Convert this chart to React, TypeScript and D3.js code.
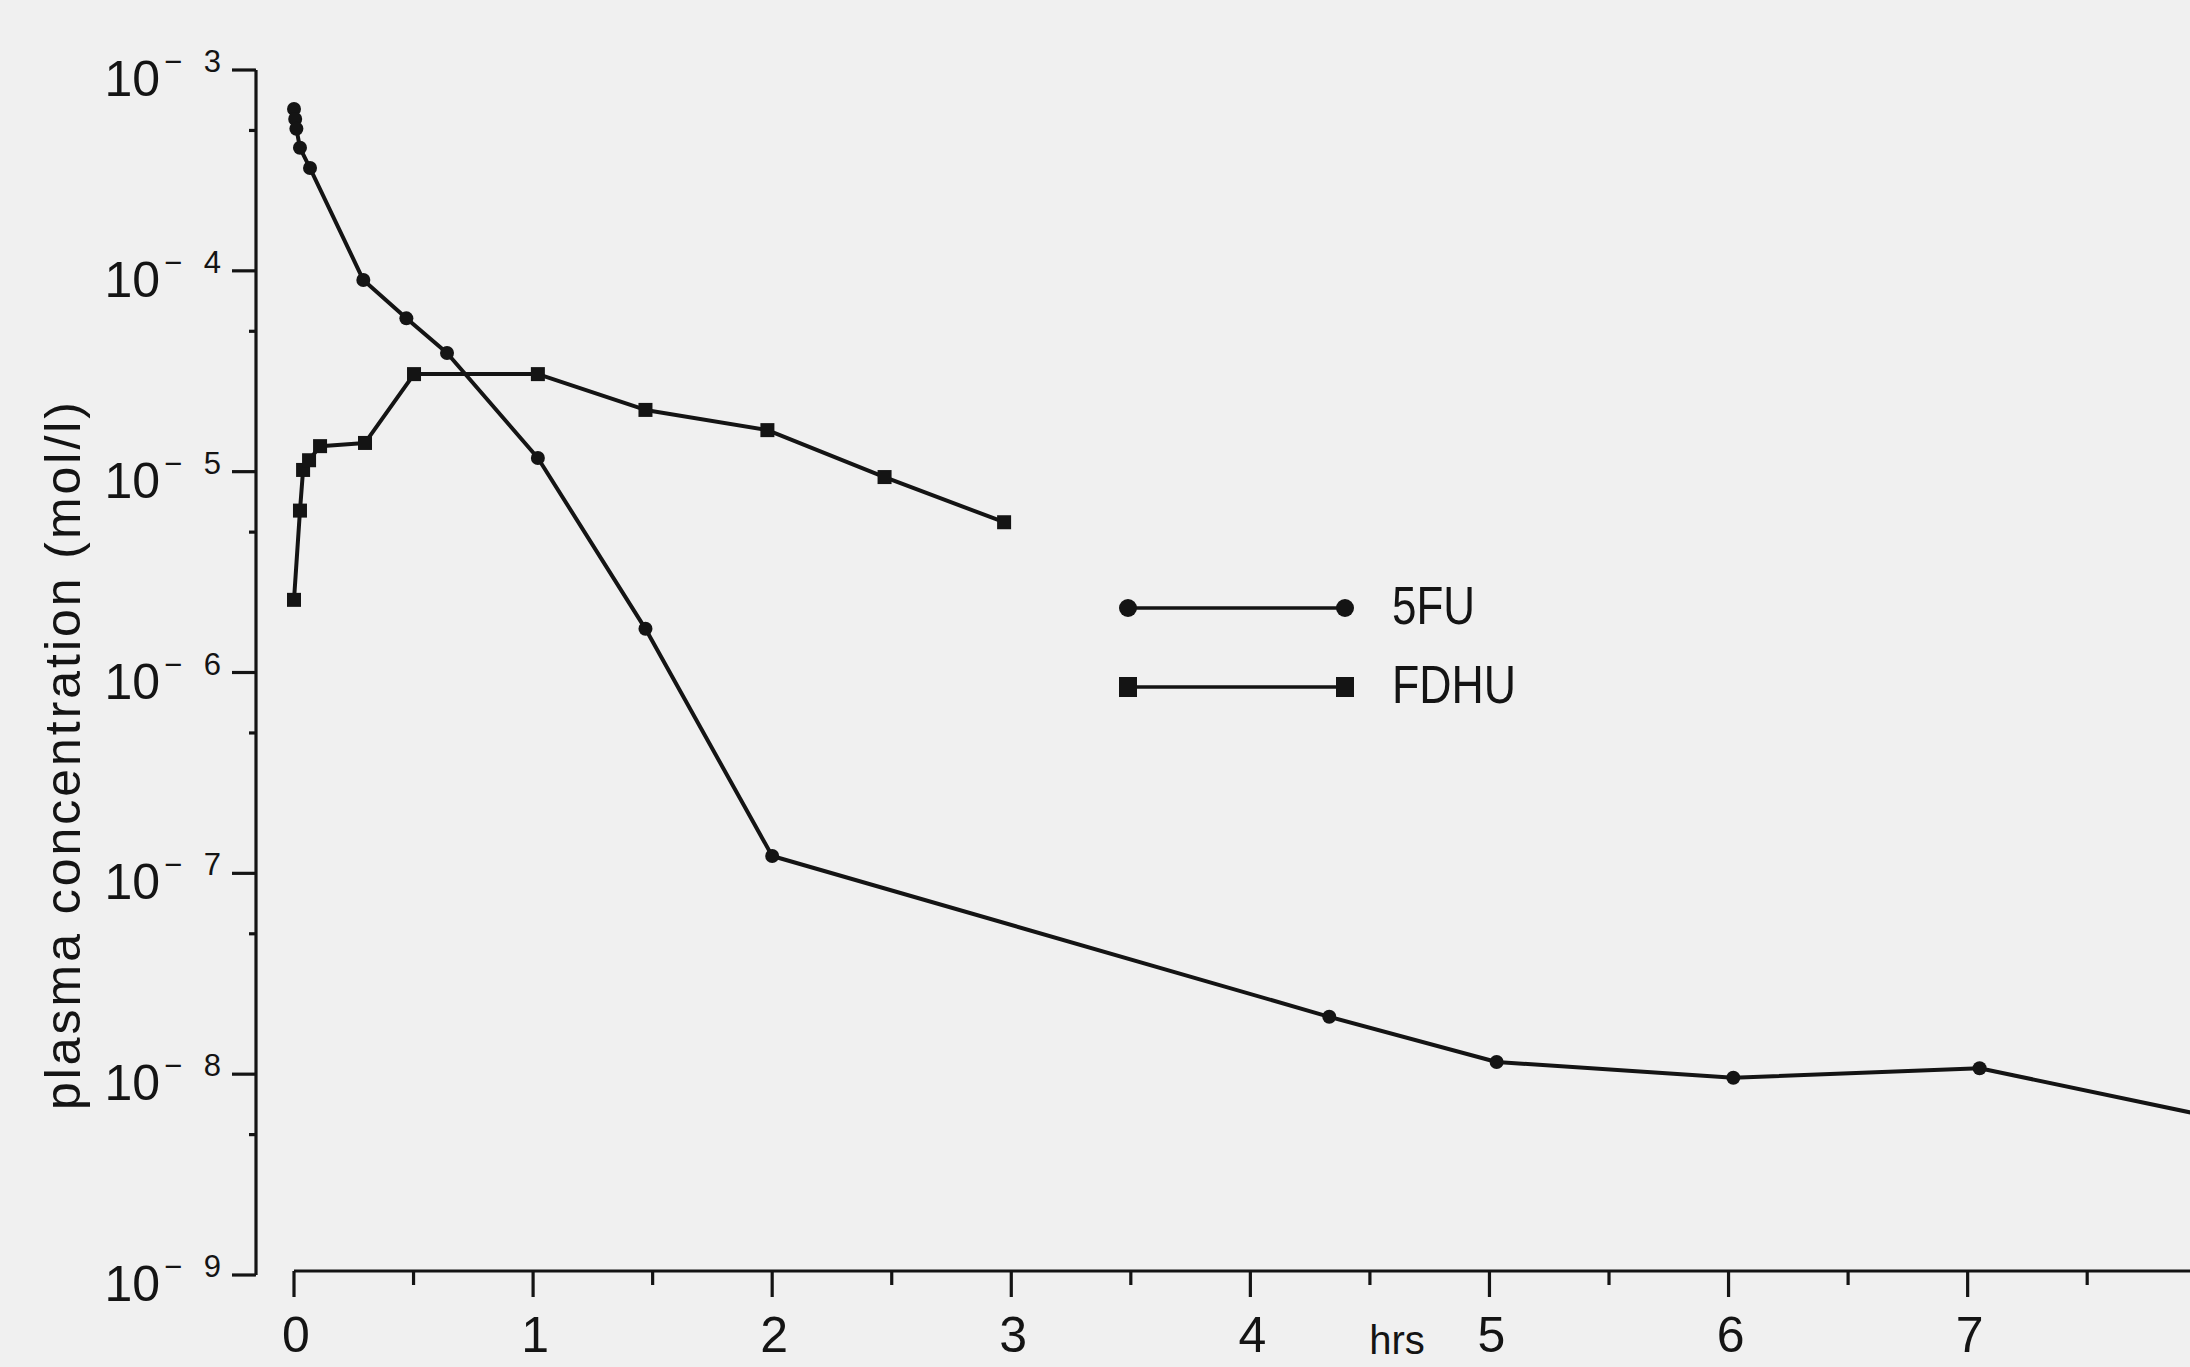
import React from 'react';
import * as d3 from 'd3';

// ---- data ----
const sfuTime = [0, 0.005, 0.01, 0.025, 0.067, 0.29, 0.47, 0.64, 1.02, 1.47, 2.0, 4.33, 5.03, 6.02, 7.05, 8.0];
const sfuConc = [6.4e-4, 5.7e-4, 5.1e-4, 4.1e-4, 3.25e-4, 9.0e-5, 5.8e-5, 3.9e-5, 1.17e-5, 1.65e-6, 1.22e-7, 1.93e-8, 1.15e-8, 9.6e-9, 1.07e-8, 6.2e-9];

const fdhuTime = [0, 0.025, 0.038, 0.063, 0.109, 0.297, 0.502, 1.02, 1.47, 1.98, 2.47, 2.97];
const fdhuConc = [2.3e-6, 6.4e-6, 1.02e-5, 1.14e-5, 1.34e-5, 1.39e-5, 3.06e-5, 3.06e-5, 2.03e-5, 1.61e-5, 9.4e-6, 5.6e-6];

const yExponents = [-3, -4, -5, -6, -7, -8, -9];
const xTickValues = [0, 1, 2, 3, 4, 5, 6, 7];
const seriesNames = ['5FU', 'FDHU'];
const yAxisTitle = 'plasma concentration (mol/l)';
const xAxisTitle = 'hrs';

const W = 2190;
const H = 1367;
const INK = '#141414';
const FONT = '"Liberation Sans", Arial, sans-serif';

export default function App() {
  const x = d3.scaleLinear().domain([0, 7.93]).range([294, 2190]);
  const y = d3.scaleLog().domain([1e-9, 1e-3]).range([1275, 70]);
  const axisX = 256;
  const axisY = 1271;

  const line = d3
    .line<[number, number]>()
    .x((d) => x(d[0]))
    .y((d) => y(d[1]));

  const sfuPts: [number, number][] = sfuTime.map((t, i) => [t, sfuConc[i]]);
  const fdhuPts: [number, number][] = fdhuTime.map((t, i) => [t, fdhuConc[i]]);

  const minorY = yExponents.slice(0, -1).map((e) => 5 * Math.pow(10, e - 1));
  const xTicks = d3.range(0, 7.51, 0.5);

  const legendX1 = 1128;
  const legendX2 = 1345;
  const legendY = [608, 687];

  return (
    <svg
      width={W}
      height={H}
      style={{ position: 'absolute', left: 0, top: 0, display: 'block' }}
      fontFamily={FONT}
    >
      <rect x={0} y={0} width={W} height={H} fill="#f0f0f0" />

      {/* y axis */}
      <line x1={axisX} x2={axisX} y1={y(1e-3)} y2={y(1e-9)} stroke={INK} strokeWidth={3.2} />
      {yExponents.map((e) => {
        const ty = y(Math.pow(10, e));
        return (
          <g key={'yt' + e}>
            <line x1={axisX - 24} x2={axisX} y1={ty} y2={ty} stroke={INK} strokeWidth={3.2} />
            <text x={160} y={ty + 26} fontSize={50} textAnchor="end" fill={INK}>
              10
            </text>
            <text x={164} y={ty + 2} fontSize={31} fill={INK} textLength={57}>
              {'\u2212' + String(-e)}
            </text>
          </g>
        );
      })}
      {minorY.map((v, i) => (
        <line key={'ym' + i} x1={axisX - 7} x2={axisX} y1={y(v)} y2={y(v)} stroke={INK} strokeWidth={3.2} />
      ))}

      {/* x axis */}
      <line x1={x(0)} x2={W} y1={axisY} y2={axisY} stroke={INK} strokeWidth={3.2} />
      {xTicks.map((t) => {
        const major = Number.isInteger(t);
        return (
          <line
            key={'xt' + t}
            x1={x(t)}
            x2={x(t)}
            y1={axisY}
            y2={axisY + (major ? 26 : 14)}
            stroke={INK}
            strokeWidth={3.2}
          />
        );
      })}
      {xTickValues.map((t) => (
        <text key={'xl' + t} x={x(t) + 2} y={1352} fontSize={50} textAnchor="middle" fill={INK}>
          {String(t)}
        </text>
      ))}
      <text x={1397} y={1354} fontSize={40} textAnchor="middle" fill={INK}>
        {xAxisTitle}
      </text>

      {/* y axis title */}
      <text
        transform="translate(80,756) rotate(-90)"
        fontSize={50}
        textAnchor="middle"
        fill={INK}
        textLength={708}
      >
        {yAxisTitle}
      </text>

      {/* series */}
      <path d={line(fdhuPts) || ''} fill="none" stroke={INK} strokeWidth={4} strokeLinejoin="round" />
      <path d={line(sfuPts) || ''} fill="none" stroke={INK} strokeWidth={4} strokeLinejoin="round" />
      {sfuPts.map((d, i) => (
        <circle key={'sp' + i} cx={x(d[0])} cy={y(d[1])} r={7} fill={INK} />
      ))}
      {fdhuPts.map((d, i) => (
        <rect key={'fp' + i} x={x(d[0]) - 7} y={y(d[1]) - 7} width={14} height={14} fill={INK} />
      ))}

      {/* legend */}
      {seriesNames.map((name, i) => {
        const ly = legendY[i];
        return (
          <g key={'lg' + name}>
            <line x1={legendX1} x2={legendX2} y1={ly} y2={ly} stroke={INK} strokeWidth={3.5} />
            {i === 0 ? (
              <>
                <circle cx={legendX1} cy={ly} r={9} fill={INK} />
                <circle cx={legendX2} cy={ly} r={9} fill={INK} />
              </>
            ) : (
              <>
                <rect x={legendX1 - 9} y={ly - 10} width={18} height={20} fill={INK} />
                <rect x={legendX2 - 9} y={ly - 10} width={18} height={20} fill={INK} />
              </>
            )}
            <text
              x={1392}
              y={ly + 16}
              fontSize={53}
              fill={INK}
              textLength={i === 0 ? 83 : 124}
              lengthAdjust="spacingAndGlyphs"
            >
              {name}
            </text>
          </g>
        );
      })}
    </svg>
  );
}
